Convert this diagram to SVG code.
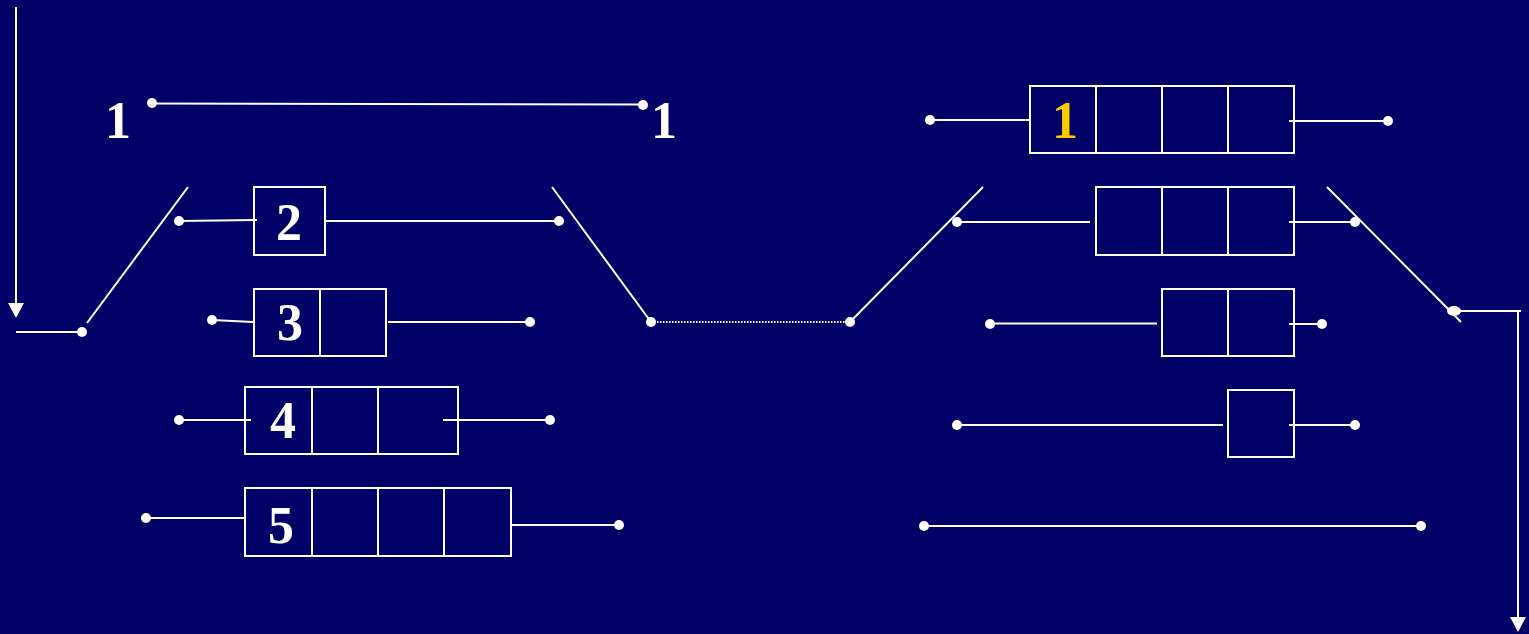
<svg xmlns="http://www.w3.org/2000/svg" width="1529" height="634" viewBox="0 0 1529 634">
<defs>
<style>
.ln{stroke:#fff;stroke-width:2;fill:none}
.bx{stroke:#fff;stroke-width:2;fill:none}
.dt{fill:#fff}
.lbl{font-family:"Liberation Serif","Times New Roman",serif;font-weight:bold;font-size:52px;fill:#fff;text-anchor:middle}
.yl{fill:#FFCC00}
.dot{stroke:#fff;stroke-width:2;stroke-dasharray:1.5 1.5;fill:none}
</style>
</defs>
<rect width="1529" height="634" fill="#000066"/>

<g id="connectors">
<line class="ln" x1="16" y1="7" x2="16" y2="303"/>
<path d="M8,303 L24,303 L16,318 Z" fill="#fff"/>
<line class="ln" x1="16" y1="332" x2="82" y2="332"/>
<circle class="dt" cx="82" cy="332" r="5"/>
<line class="ln" x1="87" y1="323" x2="188" y2="187"/>
<circle class="dt" cx="152" cy="103" r="5"/>
<line class="ln" x1="152" y1="103.5" x2="643" y2="104.5"/>
<circle class="dt" cx="643" cy="105" r="5"/>
<circle class="dt" cx="179" cy="221" r="5"/>
<line class="ln" x1="179" y1="221" x2="257" y2="220"/>
<line class="ln" x1="325" y1="221" x2="559" y2="221"/>
<circle class="dt" cx="559" cy="221" r="5"/>
<circle class="dt" cx="212" cy="320" r="5"/>
<line class="ln" x1="212" y1="320" x2="253" y2="322"/>
<line class="ln" x1="388" y1="322" x2="530" y2="322"/>
<circle class="dt" cx="530" cy="322" r="5"/>
<circle class="dt" cx="179" cy="420" r="5"/>
<line class="ln" x1="179" y1="420" x2="251" y2="420"/>
<line class="ln" x1="443" y1="420" x2="550" y2="420"/>
<circle class="dt" cx="550" cy="420" r="5"/>
<circle class="dt" cx="146" cy="518" r="5"/>
<line class="ln" x1="146" y1="518" x2="245" y2="518"/>
<line class="ln" x1="512" y1="525" x2="619" y2="525"/>
<circle class="dt" cx="619" cy="525" r="5"/>
<line class="ln" x1="552" y1="187" x2="651" y2="322"/>
<circle class="dt" cx="651" cy="322" r="5"/>
<line class="dot" x1="651" y1="322" x2="850" y2="322"/>
<circle class="dt" cx="850" cy="322" r="5"/>
<line class="ln" x1="850" y1="322" x2="983" y2="187"/>
<circle class="dt" cx="930" cy="120" r="5"/>
<line class="ln" x1="930" y1="120" x2="1030" y2="120"/>
<line class="ln" x1="1289" y1="121" x2="1388" y2="121"/>
<circle class="dt" cx="1388" cy="121" r="5"/>
<circle class="dt" cx="957" cy="222" r="5"/>
<line class="ln" x1="957" y1="222" x2="1090" y2="222"/>
<line class="ln" x1="1289" y1="222" x2="1355" y2="222"/>
<circle class="dt" cx="1355" cy="222" r="5"/>
<circle class="dt" cx="990" cy="324" r="5"/>
<line class="ln" x1="990" y1="323.5" x2="1157" y2="323.5"/>
<line class="ln" x1="1289" y1="324" x2="1322" y2="324"/>
<circle class="dt" cx="1322" cy="324" r="5"/>
<circle class="dt" cx="957" cy="425" r="5"/>
<line class="ln" x1="957" y1="425" x2="1223" y2="425"/>
<line class="ln" x1="1289" y1="425" x2="1355" y2="425"/>
<circle class="dt" cx="1355" cy="425" r="5"/>
<circle class="dt" cx="924" cy="526" r="5"/>
<line class="ln" x1="924" y1="526" x2="1421" y2="526"/>
<circle class="dt" cx="1421" cy="526" r="5"/>
<line class="ln" x1="1327" y1="187" x2="1461" y2="322"/>
<ellipse class="dt" cx="1454" cy="311" rx="7" ry="5"/>
<line class="ln" x1="1454" y1="311" x2="1521" y2="311"/>
<line class="ln" x1="1518" y1="311" x2="1518" y2="617"/>
<path d="M1510,617 L1526,617 L1518,632 Z" fill="#fff"/>
</g>

<g id="label-1-left">
<text class="lbl" x="118" y="138">1</text>
<text class="lbl" x="664" y="138">1</text>
</g>
<g id="box-2">
<rect class="bx" x="254" y="187" width="71" height="68"/>
<text class="lbl" x="289" y="240">2</text>
</g>
<g id="box-3">
<rect class="bx" x="254" y="289" width="132" height="67"/>
<line class="ln" x1="320" y1="289" x2="320" y2="356"/>
<text class="lbl" x="290" y="340">3</text>
</g>
<g id="box-4">
<rect class="bx" x="245" y="387" width="213" height="67"/>
<line class="ln" x1="312" y1="387" x2="312" y2="454"/>
<line class="ln" x1="378" y1="387" x2="378" y2="454"/>
<text class="lbl" x="283" y="438">4</text>
</g>
<g id="box-5">
<rect class="bx" x="245" y="488" width="266" height="68"/>
<line class="ln" x1="312" y1="488" x2="312" y2="556"/>
<line class="ln" x1="378" y1="488" x2="378" y2="556"/>
<line class="ln" x1="444" y1="488" x2="444" y2="556"/>
<text class="lbl" x="281" y="543">5</text>
</g>
<g id="box-r1">
<rect class="bx" x="1030" y="86" width="264" height="67"/>
<line class="ln" x1="1096" y1="86" x2="1096" y2="153"/>
<line class="ln" x1="1162" y1="86" x2="1162" y2="153"/>
<line class="ln" x1="1228" y1="86" x2="1228" y2="153"/>
<text class="lbl yl" x="1065" y="138">1</text>
</g>
<g id="box-r2">
<rect class="bx" x="1096" y="187" width="198" height="68"/>
<line class="ln" x1="1162" y1="187" x2="1162" y2="255"/>
<line class="ln" x1="1228" y1="187" x2="1228" y2="255"/>
</g>
<g id="box-r3">
<rect class="bx" x="1162" y="289" width="132" height="67"/>
<line class="ln" x1="1228" y1="289" x2="1228" y2="356"/>
</g>
<g id="box-r4">
<rect class="bx" x="1228" y="390" width="66" height="67"/>
</g>
</svg>
